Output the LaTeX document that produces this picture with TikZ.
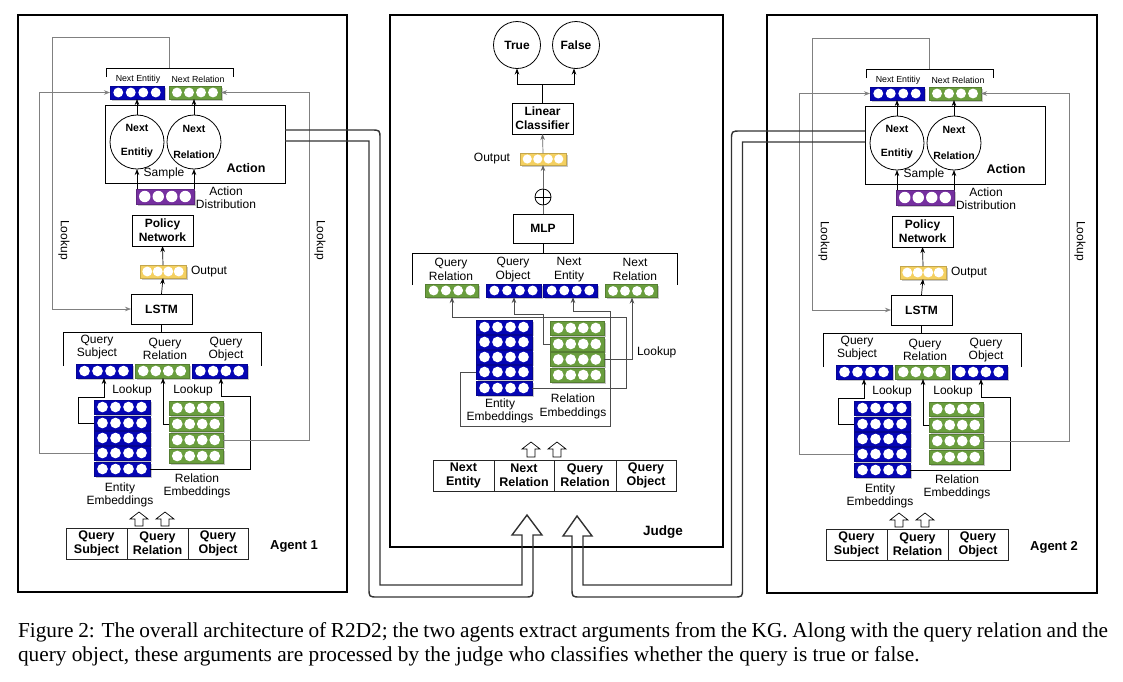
\documentclass[tikz,border=0pt]{standalone}
\usepackage{fontspec}
\setmainfont{Liberation Serif}
\setsansfont{Liberation Sans}
\usetikzlibrary{calc,arrows.meta}
\definecolor{eblue}{RGB}{5,5,180}
\definecolor{egreen}{RGB}{106,158,62}
\definecolor{epurple}{RGB}{118,48,160}
\definecolor{eyellow}{RGB}{244,208,96}
\newcommand{\emb}[6]{%
  \fill[black!22] ($(#2,#3)+({-#4/2+1.5},{-#5/2+1.5})$) rectangle ($(#2,#3)+({#4/2+1.5},{#5/2+1.5})$);
  \node[embnode, fill=#6, draw=#6!80!black, minimum width=#4, minimum height=#5] (#1) at (#2,#3) {};
  \foreach \k in {-1.5,-0.5,0.5,1.5}{\fill[white] ($(#1.center)+({\k*(#4-4)/4},0)$) circle[radius={0.38*#5}];}%
}
\newcommand{\harrow}[3]{%
  \draw[hollow] (#1-4,#3) -- (#1-4,#2+7) -- (#1-9,#2+7) -- (#1,#2) -- (#1+9,#2+7) -- (#1+4,#2+7) -- (#1+4,#3) -- cycle;}
\newcommand{\agentdraw}[2]{%
  % next entity / relation
  \emb{#1-ne}{137}{92.5}{54}{13}{eblue}
  \emb{#1-nr}{195}{92.5}{52}{13}{egreen}
  \node[stxt] at (138,79) {Next Entitiy};
  \node[stxt] at (198,79) {Next Relation};
  \draw[line width=0.9pt] (106,77) -- (106,68) -- (233,68) -- (233,77);
  % action
  \node[draw, line width=0.8pt, minimum width=180, minimum height=78] (#1-act) at (195,144) {};
  \node[draw, circle, line width=0.8pt, minimum size=54] (#1-ce) at (137,142) {};
  \node[draw, circle, line width=0.8pt, minimum size=54] (#1-cr) at (194,142) {};
  \node[ctxt] at (137,128) {Next};
  \node[ctxt] at (137,153) {Entitiy};
  \node[ctxt] at (194,129) {Next};
  \node[ctxt] at (194,155) {Relation};
  \node[btxt, font=\sffamily\bfseries\fontsize{12.5}{14}\selectfont] at (246,168) {Action};
  \node[txt] at (164,173) {Sample};
  \draw[arr] (#1-ce.north) -- (#1-ce.north |- #1-ne.south);
  \draw[arr] (#1-cr.north) -- (#1-cr.north |- #1-nr.south);
  % action distribution
  \emb{#1-ad}{165}{196.5}{58}{15}{epurple}
  \node[txt] at (226,197.5) {Action\\Distribution};
  \draw[arr] (#1-ce.south |- #1-ad.north) -- (#1-ce.south);
  \draw[arr] (#1-cr.south |- #1-ad.north) -- (#1-cr.south);
  % policy network, output, lstm
  \node[bx, minimum width=61, minimum height=31] (#1-pn) at (162.5,230.5) {Policy\\Network};
  \emb{#1-out}{163}{271.5}{46}{13}{eyellow}
  \node[txt, anchor=west] at (191,272) {Output};
  \node[bx, minimum width=61, minimum height=30] (#1-lstm) at (161.5,309) {LSTM};
  \draw[arr] (#1-out.north) -- (#1-pn.south);
  \draw[arr] (#1-lstm.north) -- (#1-out.south);
  \draw[gl, arr] (169,68) -- (169,37) -- (52,37) -- (52,309) -- (#1-lstm.west);
  % query bracket
  \draw[line width=0.9pt] (#1-lstm.south) -- (161.5,332);
  \draw[line width=0.9pt] (63,366) -- (63,332) -- (261,332) -- (261,366);
  \node[txt] at (97,347) {Query\\Subject};
  \node[txt] at (165,349) {Query\\Relation};
  \node[txt] at (226,349) {Query\\Object};
  \emb{#1-qs}{104}{371}{56}{14}{eblue}
  \emb{#1-qr}{162}{371}{54}{14}{egreen}
  \emb{#1-qo}{219.5}{371}{55}{14}{eblue}
  \node[txt] at (132,390) {Lookup};
  \node[txt] at (193,390) {Lookup};
  % embeddings
  \foreach \i/\y in {1/407,2/423,3/438,4/453,5/469}{\emb{#1-e\i}{122}{\y}{56}{14}{eblue}}
  \foreach \i/\y in {1/408,2/424,3/440,4/456}{\emb{#1-r\i}{196}{\y}{54}{14}{egreen}}
  \draw[arr] (#1-e2.west) -- (78,423) -- (78,397) -- (104,397) -- (#1-qs.south);
  \draw[arr] (#1-r2.west) -- (163,424) -- ($(#1-qr.south)+(1,0)$);
  \draw[arr] (#1-e5.east) -- (250,469) -- (250,396) -- (221,396) -- ($(#1-qo.south)+(1.5,0)$);
  \draw[gl, arr] (#1-e4.west) -- (39,453) -- (39,92.5) -- (#1-ne.west);
  \draw[gl, arr] (#1-r3.east) -- (309,440) -- (309,92.5) -- (#1-nr.east);
  \node[txt, rotate=-90] at (64,240) {Lookup};
  \node[txt, rotate=-90] at (320,240) {Lookup};
  \node[txt] at (120,495) {Entity\\Embeddings};
  \node[txt] at (197,486) {Relation\\Embeddings};
  \harrow{139}{512}{526}
  \harrow{165}{512}{526}
  % query table
  \node[cbx, minimum width=61, minimum height=31] (#1-t1) at (96.5,543.5) {Query\\Subject};
  \node[cbx, minimum width=61, minimum height=31] (#1-t2) at (157.5,543.5) {Query\\Relation};
  \node[cbx, minimum width=60, minimum height=31] (#1-t3) at (218,543.5) {Query\\Object};
  \node[btxt, font=\sffamily\bfseries\fontsize{13}{15}\selectfont] at (294,546) {#2};
}
\begin{document}
\begin{tikzpicture}[x=1pt,y=-1pt,
  every node/.style={inner sep=0pt, outer sep=0pt},
  embnode/.style={inner sep=0pt, line width=0.5pt},
  txt/.style={font=\sffamily\fontsize{12}{13.5}\selectfont, align=center},
  btxt/.style={font=\sffamily\bfseries\fontsize{12}{14}\selectfont, align=center},
  stxt/.style={font=\sffamily\fontsize{8.8}{10}\selectfont},
  ctxt/.style={font=\sffamily\bfseries\fontsize{10.5}{12}\selectfont},
  bx/.style={draw=black, line width=0.8pt, font=\sffamily\bfseries\fontsize{12}{14}\selectfont, align=center},
  cbx/.style={draw=black!85, line width=0.8pt, font=\sffamily\bfseries\fontsize{12.5}{14}\selectfont, align=center},
  agframe/.style={draw=black, line width=2pt},
  arr/.style={-{Stealth[length=6pt,width=4.5pt]}, line width=0.7pt},
  gl/.style={draw=black!50, line width=1.1pt},
  dl/.style={draw=black!70, line width=0.9pt},
  pipe/.style={draw=black!80, line width=1.4pt},
  hollow/.style={draw=black, line width=0.7pt, fill=white},
]
\useasboundingbox (0,0) rectangle (1123,681);
\fill[white] (0,0) rectangle (1123,681);

% frames
\node[agframe, minimum width=329, minimum height=577] (ag1) at (182.5,303.5) {};
\node[agframe, minimum width=333, minimum height=532] (judge) at (556.5,281) {};
\node[agframe, minimum width=330, minimum height=578] (ag2) at (932,304) {};

% agents
\agentdraw{a}{Agent 1}
\begin{scope}[shift={(760,1)}]
\agentdraw{b}{Agent 2}
\end{scope}

% judge
\node[draw, circle, line width=0.8pt, minimum size=47, btxt] (J-t) at (517,45) {True};
\node[draw, circle, line width=0.8pt, minimum size=47, btxt] (J-f) at (576,45) {False};
\node[bx, minimum width=61, minimum height=31] (J-lc) at (542.5,118.5) {Linear\\Classifier};
\draw[line width=0.8pt] (J-lc.north) -- (542.5,84);
\draw[arr] (542.5,84) -| (J-t.south);
\draw[arr] (542.5,84) -| ($(J-f.south)+(-2,0)$);
\emb{J-out}{543}{159}{46}{12}{eyellow}
\node[txt, anchor=east] at (510,159) {Output};
\draw[arr, draw=black!60] (J-out.north) -- (J-lc.south);
\node[draw, circle, line width=0.8pt, minimum size=16] (J-op) at (543,197) {};
\draw[line width=0.8pt] (J-op.north) -- (J-op.south) (J-op.west) -- (J-op.east);
\draw[arr, draw=black!60] (J-op.north) -- (J-out.south);
\node[bx, minimum width=60, minimum height=29] (J-mlp) at (543,228.5) {MLP};
\draw[line width=0.8pt, draw=black!60] (J-mlp.north) -- (J-op.south);
\draw[line width=0.9pt] (J-mlp.south) -- (543,253);
\draw[line width=0.9pt] (412,285) -- (412,253) -- (677,253) -- (677,285);
\node[txt] at (451,269.5) {Query\\Relation};
\node[txt] at (513,269.5) {Query\\Object};
\node[txt] at (569,269.5) {Next\\Entity};
\node[txt] at (635,269.5) {Next\\Relation};
\emb{J-qr}{452}{290.5}{53}{13}{egreen}
\emb{J-qo}{513.5}{290.5}{55}{13}{eblue}
\emb{J-ne}{570.5}{290.5}{54}{13}{eblue}
\emb{J-nr}{631}{291}{52}{13}{egreen}
\foreach \i/\y in {1/327,2/342,3/357,4/372,5/388}{\emb{J-e\i}{504}{\y}{56}{14}{eblue}}
\foreach \i/\y in {1/328,2/344,3/359.5,4/375}{\emb{J-r\i}{577}{\y}{54}{14}{egreen}}
\draw[arr, dl] (J-e5.east) -- (626,388) -- (626,317) -- (452,317) -- (J-qr.south);
\draw[arr, dl] (J-r2.west) -- (543,344) -- (543,314.5) -- (514,314.5) -- ($(J-qo.south)+(0.5,0)$);
\draw[arr, dl] (J-e4.west) -- (460,372) -- (460,426) -- (610,426) -- (610,311) -- (573,311) -- ($(J-ne.south)+(2.5,0)$);
\draw[arr, dl] (J-r3.east) -- (632,359.5) -- ($(J-nr.south)+(1,0)$);
\node[txt, anchor=west] at (637,352) {Lookup};
\node[txt] at (500,411) {Entity\\Embeddings};
\node[txt] at (573,406.5) {Relation\\Embeddings};
\harrow{531}{442}{457}
\harrow{557}{442}{457}
\node[cbx, minimum width=61, minimum height=31] (J-t1) at (463.5,475.5) {Next\\Entity};
\node[cbx, minimum width=60, minimum height=31] (J-t2) at (524,475.5) {Next\\Relation};
\node[cbx, minimum width=62, minimum height=31] (J-t3) at (585,475.5) {Query\\Relation};
\node[cbx, minimum width=60, minimum height=31] (J-t4) at (646,475.5) {Query\\Object};
\node[btxt, font=\sffamily\bfseries\fontsize{13.5}{15}\selectfont] at (663,532) {Judge};

% pipes
\draw[pipe] (285,130) -- (371,130) .. controls (380,130) .. (380,139) -- (380,585) -- (522,585) -- (522,535) -- (512,535) -- (527,515) -- (542,535) -- (533,535) -- (533,588) .. controls (533,597) .. (524,597) -- (378,597) .. controls (369,597) .. (369,588) -- (369,141) -- (285,141);
\draw[pipe] (865,131) -- (741,131) .. controls (731.5,131) .. (731.5,140) -- (731.5,585) -- (583,585) -- (583,536) -- (592,536) -- (577,516) -- (563,536) -- (572,536) -- (572,588) .. controls (572,597) .. (581,597) -- (733.5,597) .. controls (742.5,597) .. (742.5,588) -- (742.5,142) -- (865,142);

% caption
\node[anchor=base west, font=\fontsize{21.3}{24}\selectfont] (cap1) at (18,637) {\makebox[1090pt][s]{Figure 2: The overall architecture of R2D2; the two agents extract arguments from the KG. Along with the query relation and the}};
\node[anchor=base west, font=\fontsize{21.3}{24}\selectfont] (cap2) at (18,661) {query object, these arguments are processed by the judge who classifies whether the query is true or false.};
\end{tikzpicture}
\end{document}
